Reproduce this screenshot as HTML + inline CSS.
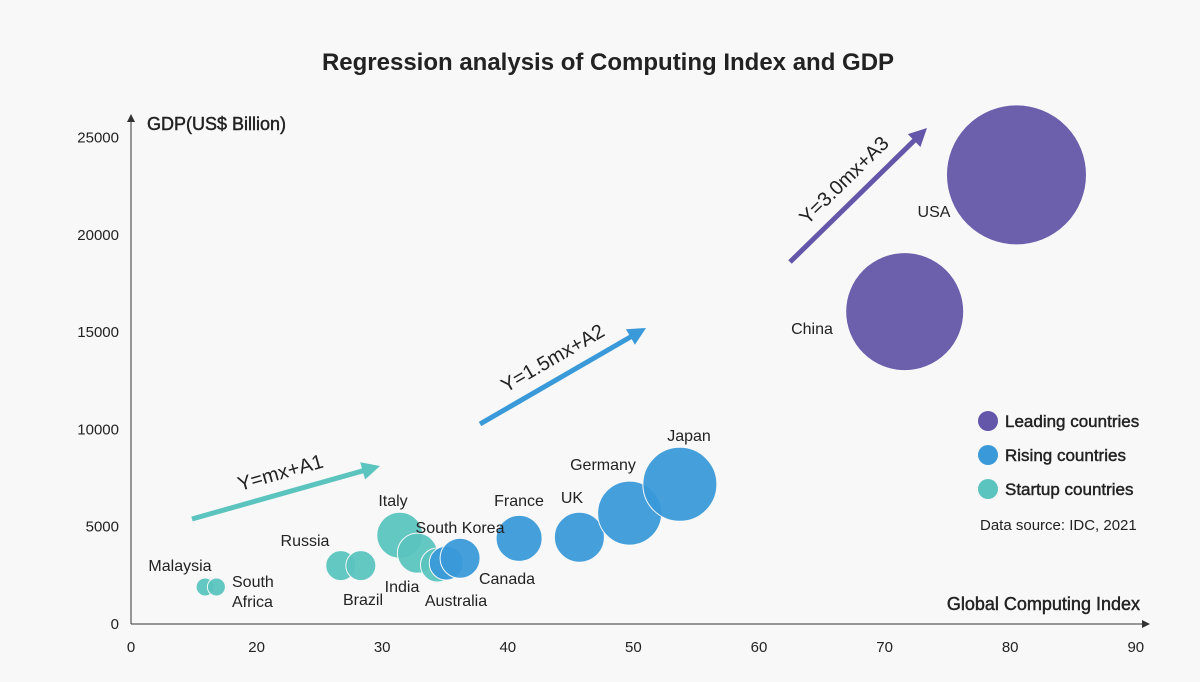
<!DOCTYPE html>
<html><head><meta charset="utf-8"><style>
body{margin:0;background:#f8f8f8;}
svg text{font-family:"Liberation Sans",sans-serif;fill:#222;}
.med{stroke:#222;stroke-width:0.45px;}
</style></head><body>
<svg width="1200" height="677" id="c" style="background:#f8f8f8">
<text x="608" y="70" text-anchor="middle" font-size="24" font-weight="bold">Regression analysis of Computing Index and GDP</text>
<text x="147" y="130" font-size="18" class="med">GDP(US$ Billion)</text>
<text x="1140" y="610" text-anchor="end" font-size="18" class="med">Global Computing Index</text>
<line x1="131" y1="624" x2="1145" y2="624" stroke="#333"/>
<polygon points="1150,624 1142,620 1142,628" fill="#333"/>
<line x1="131" y1="624" x2="131" y2="120" stroke="#333"/>
<polygon points="131,114 127,122 135,122" fill="#333"/>
<g id="ticks"></g>
<g id="arrows"></g>
<g id="bubbles"></g>
<g>
<circle cx="988" cy="421" r="10" fill="#6456a8"/>
<text x="1005" y="427" font-size="17" class="med">Leading countries</text>
<circle cx="988" cy="455" r="10" fill="#3a9ad9"/>
<text x="1005" y="461" font-size="17" class="med">Rising countries</text>
<circle cx="988" cy="489" r="10" fill="#5bc4bf"/>
<text x="1005" y="495" font-size="17" class="med">Startup countries</text>
<text x="980" y="530" font-size="15">Data source: IDC, 2021</text>
</g>
</svg>
<script>
const xTickLabels=["0","20","30","40","50","60","70","80","90"];
const yTickValues=[0,5000,10000,15000,20000,25000];
const countries=["Malaysia","South Africa","Russia","Brazil","Italy","South Korea","India","Australia","Canada","France","UK","Germany","Japan","China","USA"];
const computeIndex=[15.9,16.8,26.7,28.3,31.4,32.8,34.4,35.1,36.2,40.9,45.7,49.7,53.7,71.6,80.5];
const gdp=[1900,1900,3000,3000,4560,3640,3030,3130,3380,4400,4460,5700,7180,16050,23080];
const radius=[9,9,15,15,23,20,17,17,20,23,25,32,37,59,70];
const group=["s","s","s","s","s","s","s","r","r","r","r","r","r","l","l"];
const colors={s:"#5bc4bf",r:"#3a9ad9",l:"#6456a8"};
const labelPos={"Malaysia":[180,571,"middle"],"South Africa":[232,587,"start"],"Russia":[305,546,"middle"],"Brazil":[363,605,"middle"],"Italy":[393,506,"middle"],"South Korea":[460,533,"middle"],"India":[402,592,"middle"],"Australia":[456,606,"middle"],"Canada":[507,584,"middle"],"France":[519,506,"middle"],"UK":[572,503,"middle"],"Germany":[603,470,"middle"],"Japan":[689,441,"middle"],"China":[812,334,"middle"],"USA":[934,217,"middle"]};
const ns="http://www.w3.org/2000/svg";
function X(v){return 131+(v-10)*12.56;}
function Y(v){return 624-v/5000*97.3;}
function mk(t,a,p){const e=document.createElementNS(ns,t);for(const k in a)e.setAttribute(k,a[k]);(p||document.getElementById('c')).appendChild(e);return e;}
const tg=document.getElementById('ticks');
xTickLabels.forEach((l,i)=>{const t=mk('text',{x:131+i*125.6,y:652,'text-anchor':'middle','font-size':15,fill:'#444'},tg);t.textContent=l;

});
yTickValues.forEach(v=>{const t=mk('text',{x:119,y:Y(v)+5,'text-anchor':'end','font-size':15,fill:'#444'},tg);t.textContent=v;

});
const ag=document.getElementById('arrows');
[[192,519,380,466,"#5bc4bf","Y=mx+A1"],[480,424,646,328,"#3a9ad9","Y=1.5mx+A2"],[790,262,927,128,"#6456a8","Y=3.0mx+A3"]].forEach(a=>{
const[x1,y1,x2,y2,c,l]=a;const ang=Math.atan2(y2-y1,x2-x1);const L=Math.hypot(x2-x1,y2-y1);
const g=mk('g',{transform:`translate(${x1},${y1}) rotate(${ang*180/Math.PI})`},ag);


mk('line',{x1:0,y1:0,x2:L-14,y2:0,stroke:c,'stroke-width':5},g);
mk('polygon',{points:`${L},0 ${L-18},-9 ${L-18},9`,fill:c},g);
const t=mk('text',{x:L/2,y:-14,'text-anchor':'middle','font-size':20},g);t.textContent=l;

});
const bg=document.getElementById('bubbles');
countries.forEach((n,i)=>{const c=mk('circle',{cx:X(computeIndex[i]),cy:Y(gdp[i]),r:radius[i],fill:colors[group[i]],'fill-opacity':0.95,stroke:'#f8f8f8','stroke-width':1},bg);

});
countries.forEach(n=>{const p=labelPos[n];
if(n==="South Africa"){const t=mk('text',{x:p[0],y:p[1],'font-size':16},bg);t.textContent="South";const t2=mk('text',{x:p[0],y:p[1]+20,'font-size':16},bg);t2.textContent="Africa";



return;}
const t=mk('text',{x:p[0],y:p[1],'text-anchor':p[2],'font-size':16},bg);t.textContent=n;

});
</script>
</body></html>
